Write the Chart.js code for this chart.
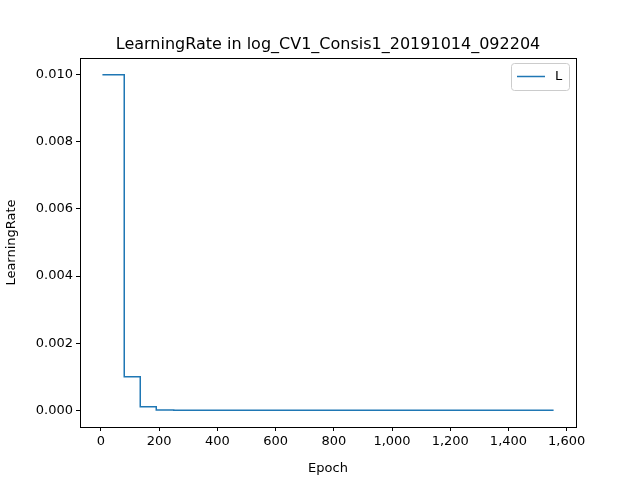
<!DOCTYPE html>
<html><head><meta charset="utf-8">
<script src="https://cdn.jsdelivr.net/npm/chart.js@4/dist/chart.umd.min.js"></script>
<style>html,body{margin:0;background:#fff}#c{display:block}</style>
</head><body>
<canvas id="c" width="640" height="480"></canvas>
<script>
const chartTitle = 'LearningRate in log_CV1_Consis1_20191014_092204';
const epochs = [5, 80, 80, 135, 135, 190, 190, 250, 250, 1555];
const rates = [0.01, 0.01, 0.001, 0.001, 0.0001, 0.0001, 0.00001, 0.00001, 0.000001, 0.000001];
const xTicks = [0, 200, 400, 600, 800, 1000, 1200, 1400, 1600];
const yTicks = [0, 0.002, 0.004, 0.006, 0.008, 0.01];
const seriesLabel = 'L';
const blue = '#1f77b4';
const font = 'DejaVu Sans';

const frame = {
	id: 'frame',
	afterDraw(chart) {
		const { ctx, chartArea: a } = chart;
		ctx.save();
		ctx.strokeStyle = '#000';
		ctx.lineWidth = 1;
		ctx.strokeRect(a.left + 0.5, a.top + 0.5, a.right - a.left, a.bottom - a.top);
		ctx.fillStyle = '#000';
		ctx.font = '16px "' + font + '"';
		ctx.textAlign = 'center';
		ctx.textBaseline = 'alphabetic';
		ctx.fillText(chartTitle, (a.left + a.right) / 2, a.top - 9);
		// legend
		const bx = a.right - 65, by = a.top + 5;
		ctx.strokeStyle = '#cccccc';
		ctx.fillStyle = 'rgba(255,255,255,0.8)';
		ctx.beginPath();
		ctx.roundRect(bx + 0.5, by + 0.5, 58, 27, 3);
		ctx.fill(); ctx.stroke();
		ctx.strokeStyle = blue;
		ctx.lineWidth = 1.5;
		ctx.beginPath();
		ctx.moveTo(bx + 6, by + 13.5); ctx.lineTo(bx + 34, by + 13.5);
		ctx.stroke();
		ctx.fillStyle = '#000';
		ctx.font = '13px "' + font + '"';
		ctx.textAlign = 'left';
		ctx.textBaseline = 'middle';
		ctx.fillText(seriesLabel, bx + 44, by + 14);
		ctx.restore();
	}
};

new Chart(document.getElementById('c'), {
	type: 'line',
	data: {
		datasets: [{
			label: seriesLabel,
			data: epochs.map((x, i) => ({ x, y: rates[i] })),
			borderColor: blue,
			borderWidth: 1.5,
			pointRadius: 0,
			tension: 0
		}]
	},
	options: {
		responsive: false,
		animation: false,
		layout: { padding: { top: 58, right: 64, left: 0, bottom: 0 } },
		plugins: { legend: { display: false }, title: { display: false }, tooltip: { enabled: false } },
		scales: {
			x: {
				type: 'linear', min: -72, max: 1632,
				afterBuildTicks: s => { s.ticks = xTicks.map(v => ({ value: v })); },
				afterFit: s => { s.height = 53; },
				grid: { drawOnChartArea: false, drawTicks: true, tickLength: 4, color: '#000' },
				border: { display: false },
				ticks: { color: '#000', font: { family: font, size: 13 }, maxRotation: 0, padding: 3 },
				title: { display: true, text: 'Epoch', color: '#000', font: { family: font, size: 13 }, padding: { top: 2 } }
			},
			y: {
				min: -0.0005, max: 0.0105,
				afterBuildTicks: s => { s.ticks = yTicks.map(v => ({ value: v })); },
				afterFit: s => { s.width = 80; },
				grid: { drawOnChartArea: false, drawTicks: true, tickLength: 4, color: '#000' },
				border: { display: false },
				ticks: { color: '#000', font: { family: font, size: 13 }, padding: 3, callback: v => v.toFixed(3) },
				title: { display: true, text: 'LearningRate', color: '#000', font: { family: font, size: 13 }, padding: { bottom: 2 } }
			}
		}
	},
	plugins: [frame]
});
</script>
</body></html>
